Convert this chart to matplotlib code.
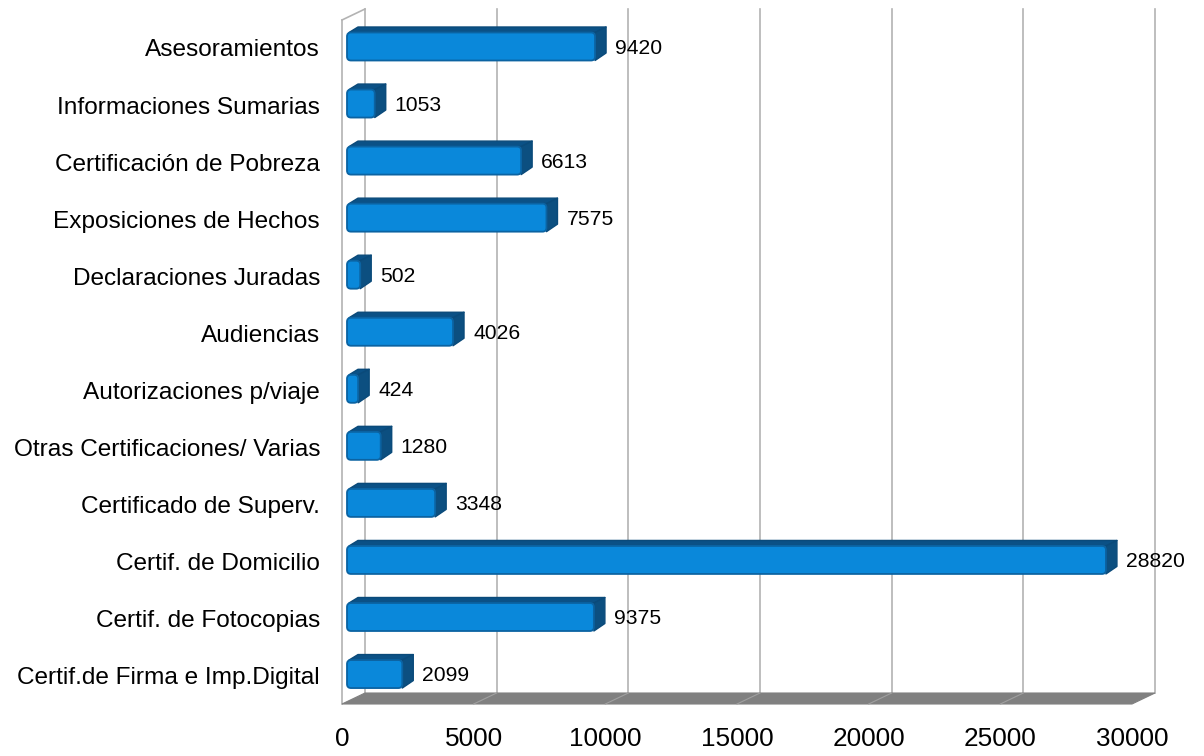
import matplotlib
matplotlib.use("Agg")
import matplotlib.pyplot as plt
from matplotlib.patches import Polygon, FancyBboxPatch

categories = ["Asesoramientos", "Informaciones Sumarias", "Certificación de Pobreza",
              "Exposiciones de Hechos", "Declaraciones Juradas", "Audiencias",
              "Autorizaciones p/viaje", "Otras Certificaciones/ Varias",
              "Certificado de Superv.", "Certif. de Domicilio", "Certif. de Fotocopias",
              "Certif.de Firma e Imp.Digital"]
values = [9420, 1053, 6613, 7575, 502, 4026, 424, 1280, 3348, 28820, 9375, 2099]
xticks = [0, 5000, 10000, 15000, 20000, 25000, 30000]
xmax = 30000

plt.rcParams['font.family'] = ['Liberation Sans', 'DejaVu Sans']

W, H = 1204, 756
fig = plt.figure(figsize=(W / 100, H / 100), dpi=100)
ax = fig.add_axes([0, 0, 1, 1])
ax.axis('off')

# geometry (front plane)
x0_px, xw_px = 342, 790
PX = xmax / xw_px
ROW, y0_px = 57.05, 46.5
ax.set_xlim(-x0_px * PX, (W - x0_px) * PX)
ax.set_ylim((H - y0_px) / ROW, -y0_px / ROW)


def dx(p):
    return p * PX


def dy(p):
    return p / ROW


y_bot = dy(704 - y0_px)
y_top = dy(20 - y0_px)
DX, DY = dx(23), dy(-11)

grid_c = '#b3b3b3'
# back wall gridlines
for v in xticks:
    ax.plot([v + DX, v + DX], [y_bot + DY, y_top + DY], color=grid_c, lw=1.2, zorder=1)
# left wall
ax.plot([0, 0], [y_bot, y_top], color=grid_c, lw=1.2, zorder=1)
ax.plot([0, DX], [y_top, y_top + DY], color=grid_c, lw=1.2, zorder=1)
# floor
ax.add_patch(Polygon([(0, y_bot), (xmax, y_bot), (xmax + DX, y_bot + DY), (DX, y_bot + DY)],
                     closed=True, facecolor='#808080', edgecolor='#808080', lw=0.8, zorder=2))
for v in xticks[1:-1]:
    ax.plot([v, v + DX], [y_bot, y_bot + DY], color='#a0a0a0', lw=0.8, zorder=3)

# bars
aspect = dy(1) / dx(1)
bx0 = dx(5)
hh = dy(14)
ddx, ddy = dx(11), dy(-5.5)
for i, v in enumerate(values):
    yc = i
    xl, xr = bx0, bx0 + v
    yt, yb = yc - hh, yc + hh
    top = Polygon([(xl + dx(2), yt), (xr, yt), (xr + ddx, yt + ddy), (xl + ddx, yt + ddy)],
                  closed=True, facecolor='#0b5186', edgecolor='#0a4a7a', lw=1, joinstyle='round', zorder=4)
    side = Polygon([(xr, yt), (xr + ddx, yt + ddy), (xr + ddx, yb + ddy - dy(2)), (xr, yb)],
                   closed=True, facecolor='#0c4f80', edgecolor='#0a4a7a', lw=1, joinstyle='round', zorder=4)
    ax.add_patch(top)
    ax.add_patch(side)
    front = FancyBboxPatch((xl, yt), v, yb - yt,
                           boxstyle='round,pad=0,rounding_size=%f' % dx(4),
                           mutation_aspect=aspect,
                           facecolor='#0a88da', edgecolor='#0b63a2', lw=1.3, zorder=5)
    ax.add_patch(front)
    ax.text(xr + ddx + dx(9), yc + dy(1.5), str(v), ha='left', va='center', fontsize=15.2,
            color='#000000', zorder=6)
    ax.text(dx(-22), yc + dy(4), categories[i], ha='right', va='center', fontsize=17.6,
            color='#000000', zorder=6)

for v in xticks:
    ax.text(v, dy(739 - y0_px), str(v), ha='center', va='center', fontsize=18.8, color='#000000')

fig.savefig('out.png', dpi=100, facecolor='white')
